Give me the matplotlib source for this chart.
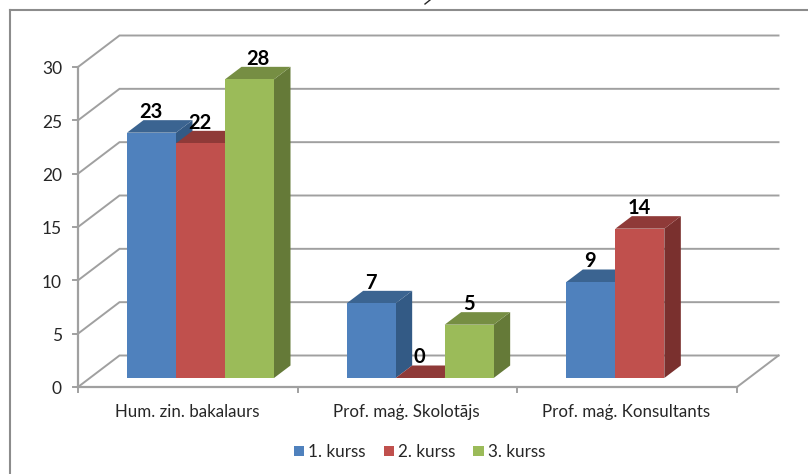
import matplotlib
matplotlib.use('Agg')
import matplotlib.pyplot as plt
from matplotlib.patches import Patch, Polygon

categorie = ['Hum. zin. bakalaurs', 'Prof. maģ. Skolotājs', 'Prof. maģ. Konsultants']
kurss1 = [23, 7, 9]
kurss2 = [22, 0, 14]
kurss3 = [28, 5, None]  # il terzo gruppo non ha la barra verde
nomi = ['1. kurss', '2. kurss', '3. kurss']
serie = [kurss1, kurss2, kurss3]
tick_y = [0, 5, 10, 15, 20, 25, 30]

fronte = ['#4F81BD', '#C0504D', '#9BBB59']
sopra = ['#3B6491', '#8F3A38', '#768E43']
lato = ['#335A85', '#7A302E', '#657A38']
griglia = '#A0A0A0'
testo = '#262626'

W, H = 808, 474
# scala: 0..3 categorie -> 78..737 px, 0..30 valori -> 387..67 px
px_x = (737 - 78) / 3
px_y = (387 - 67) / 30

fig = plt.figure(figsize=(W / 100, H / 100), dpi=100)
ax = fig.add_axes([0, 0, 1, 1])
ax.set_xlim(-78 / px_x, (W - 78) / px_x)
ax.set_ylim((387 - H) / px_y, 387 / px_y)
ax.axis('off')

dx = 41.5 / px_x   # profondita pavimento
dy = 31.5 / px_y
bar_w = 49 / px_x
bar_dx = 16.5 / px_x
bar_dy = 12.5 / px_y
base = 9 / px_y    # le barre stanno sollevate rispetto allo spigolo davanti
inizio = 49 / px_x

# griglia
for v in tick_y:
    ax.plot([0, dx, 3 + dx], [v, v + dy, v + dy], color=griglia, lw=1.4, zorder=1, solid_joinstyle='miter')
    ax.plot([-5 / px_x, 0], [v, v], color=griglia, lw=1.4, zorder=1)
    ax.text(-16 / px_x, v - 2.2 / px_y, str(v), ha='right', va='center', fontsize=12.5, color=testo, family='Lato')
ax.plot([0, 0], [0, 30], color=griglia, lw=1.6, zorder=1)
ax.plot([0, 3], [0, 0], color=griglia, lw=1.6, zorder=1)
ax.plot([3, 3 + dx], [0, dy], color=griglia, lw=1.4, zorder=1)
for c in range(4):
    ax.plot([c, c], [0, -5 / px_y], color=griglia, lw=1.4, zorder=1)

# bordo esterno (solo sinistra e sopra)
ax.plot([(10 - 78) / px_x] * 2, [(387 - H) / px_y, (387 - 10) / px_y], color='#8C8C8C', lw=1.5, zorder=1)
ax.plot([(10 - 78) / px_x, (W - 78) / px_x], [(387 - 10) / px_y] * 2, color='#8C8C8C', lw=1.5, zorder=1)

# barre, da sinistra a destra cosi si coprono come nell'originale
z = 3
for c in range(len(categorie)):
    for s in range(len(serie)):
        v = serie[s][c]
        if v is None:
            continue
        x0 = c + inizio + s * bar_w
        x1 = x0 + bar_w
        ax.add_patch(Polygon([(x1, base), (x1 + bar_dx, base + bar_dy), (x1 + bar_dx, base + v + bar_dy), (x1, base + v)],
                             facecolor=lato[s], edgecolor='none', zorder=z))
        ax.add_patch(Polygon([(x0, base + v), (x0 + bar_dx, base + v + bar_dy), (x1 + bar_dx, base + v + bar_dy), (x1, base + v)],
                             facecolor=sopra[s], edgecolor='none', zorder=z))
        ax.bar(x0, v, width=bar_w, bottom=base, align='edge', color=fronte[s], zorder=z + 0.5)
        z += 1

# etichette dati
for c in range(len(categorie)):
    for s in range(len(serie)):
        v = serie[s][c]
        if v is None:
            continue
        x = c + inizio + (s + 0.5) * bar_w
        if v == 28:
            x = x + 9 / px_x
        ax.text(x - 0.5 / px_x, base + v + 20.7 / px_y, str(v), ha='center', va='center', fontsize=14.5,
                fontweight='bold', color='black', family='Lato', zorder=50)

for c, nome in enumerate(categorie):
    ax.text(c + 0.5 - 1 / px_x, -25.3 / px_y, nome, ha='center', va='center', fontsize=12.2, color=testo, family='Lato')

# pezzetto del titolo tagliato in alto, resta solo un trattino
ax.plot([(430 - 78) / px_x, (425 - 78) / px_x], [387 / px_y, (387 - 4) / px_y], color=testo, lw=1, zorder=2)

maniglie = [Patch(facecolor=fronte[i], label=nomi[i]) for i in range(3)]
leg = ax.legend(handles=maniglie, loc='center', bbox_to_anchor=(419.5 / W, 1 - 452 / H), ncol=3, frameon=False,
                handlelength=0.6, handleheight=0.6, handletextpad=0.25, columnspacing=1.05,
                prop={'family': 'Lato', 'size': 12.3}, labelcolor=testo)

plt.savefig('out.png', dpi=100)
